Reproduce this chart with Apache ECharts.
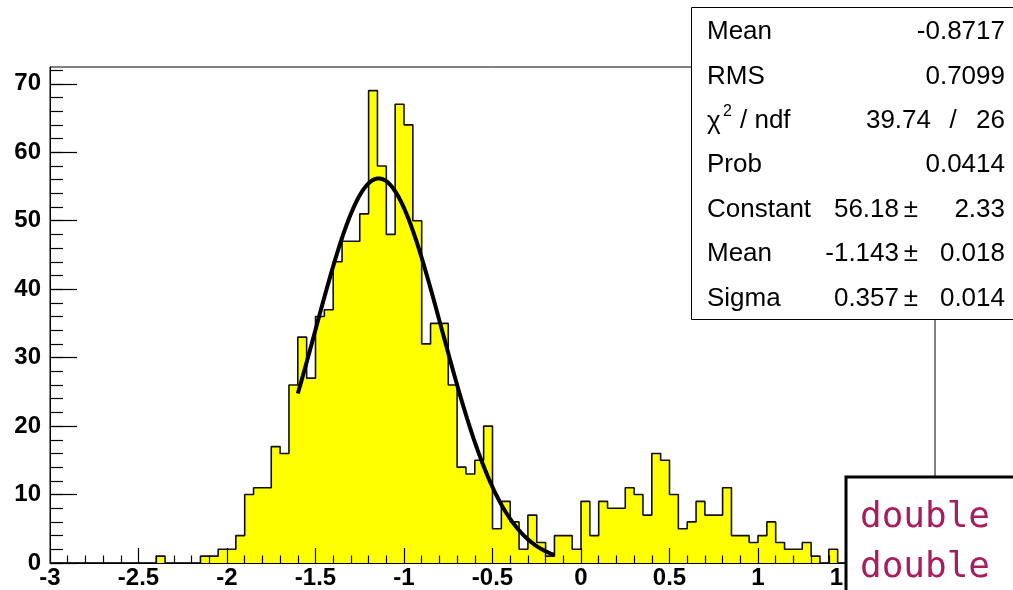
<!DOCTYPE html>
<html>
<head>
<meta charset="utf-8">
<script src="https://cdn.jsdelivr.net/npm/echarts@6/dist/echarts.min.js"></script>
<style>
  html, body { margin: 0; padding: 0; background: #fff; }
  #chart { width: 1013px; height: 590px; }
</style>
</head>
<body>
<div id="chart"></div>
<script>
// Histogram: 100 bins from -3 to 2 (bin width 0.05)
const xMin = -3;
const xMax = 2;
const binWidth = 0.05;
const counts = [
  0, 0, 0, 0, 0, 0, 0, 0, 0, 0,
  0, 0, 1, 0, 0, 0, 0, 1, 1, 2,
  2, 4, 10, 11, 11, 17, 16, 26, 33, 27,
  36, 37, 44, 47, 47, 51, 69, 58, 48, 67,
  64, 50, 32, 35, 35, 26, 14, 13, 15, 20,
  5, 9, 6, 2, 7, 3, 1, 4, 4, 2,
  9, 4, 9, 8, 8, 11, 10, 7, 16, 15,
  10, 5, 6, 9, 7, 7, 11, 4, 4, 3,
  4, 6, 3, 2, 2, 3, 1, 0, 2, 0,
  1, 0, 1, 0, 0, 1, 0, 0, 0, 0
];

// Gaussian fit parameters and fit range
const fitConstant = 56.18;
const fitMean = -1.143;
const fitSigma = 0.357;
const fitRange = [-1.6, -0.15];

// Axis ticks
const yMax = 72.45;
const yMajorTicks = [0, 10, 20, 30, 40, 50, 60, 70];
const yMinorTicks = [0, 2, 4, 6, 8, 10, 12, 14, 16, 18, 20, 22, 24, 26, 28, 30, 32, 34,
  36, 38, 40, 42, 44, 46, 48, 50, 52, 54, 56, 58, 60, 62, 64, 66, 68, 70, 72];

// Statistics box rows: name, then value pieces [value] or [value, separator, second value]
const statNames = ['Mean', 'RMS', 'χ2 / ndf', 'Prob', 'Constant', 'Mean', 'Sigma'];
const statValues = [
  ['-0.8717'],
  ['0.7099'],
  ['39.74', '/', '26'],
  ['0.0414'],
  ['56.18', '±', '2.33'],
  ['-1.143', '±', '0.018'],
  ['0.357', '±', '0.014']
];

// Code snippet box
const snippetLines = ['double', 'double'];

// Step outline: each point is a bin's lower edge with its count
const histData = counts.map((c, i) => [xMin + i * binWidth, c]);
histData.push([xMax, counts[counts.length - 1]]);

// Fit curve sampled across the fit range
const fitData = [];
const nFit = 200;
for (let k = 0; k <= nFit; k++) {
  const x = fitRange[0] + (fitRange[1] - fitRange[0]) * k / nFit;
  const z = (x - fitMean) / fitSigma;
  fitData.push([x, fitConstant * Math.exp(-0.5 * z * z)]);
}

const labelFont = {
  fontFamily: 'Liberation Sans, Arial, Helvetica, sans-serif',
  fontWeight: 'bold',
  fontSize: 24,
  color: '#000'
};

const statFamily = 'Liberation Sans, Arial, Helvetica, sans-serif';
const statFont = '400 26px ' + statFamily;
const rowTop = 32;
const rowStep = 44.4;
const nameX = 707;
const valueRight = 1005;

function statText(text, x, y, align, font) {
  return {
    type: 'text', z: 101, x: x, y: y,
    style: { text: text, fill: '#000', font: font || statFont, align: align, verticalAlign: 'middle' }
  };
}

const graphics = [
  {
    type: 'rect',
    z: 100,
    shape: { x: 691.5, y: 7.5, width: 400, height: 312 },
    style: { fill: '#fff', stroke: '#000', lineWidth: 1 }
  }
];
statNames.forEach((name, i) => {
  const y = rowTop + i * rowStep;
  if (name.startsWith('χ2')) {
    // chi-square with a raised small "2"
    graphics.push(statText('χ', nameX, y + 1, 'left'));
    graphics.push(statText('2', nameX + 16, y - 9, 'left', '400 16px ' + statFamily));
    graphics.push(statText('/ ndf', nameX + 33, y, 'left'));
  } else {
    graphics.push(statText(name, nameX, y, 'left'));
  }
  const v = statValues[i];
  if (v.length === 1) {
    graphics.push(statText(v[0], valueRight, y, 'right'));
  } else if (v[1] === '/') {
    graphics.push(statText(v[0], 931, y, 'right'));
    graphics.push(statText(v[1], 953, y, 'center'));
    graphics.push(statText(v[2], valueRight, y, 'right'));
  } else {
    graphics.push(statText(v[0], 899, y, 'right'));
    graphics.push(statText(v[1], 911, y, 'center'));
    graphics.push(statText(v[2], valueRight, y, 'right'));
  }
});
graphics.push({
  type: 'rect',
  z: 100,
  shape: { x: 846, y: 477, width: 300, height: 200 },
  style: { fill: '#fff', stroke: '#000', lineWidth: 3 }
});
snippetLines.forEach((line, i) => {
  graphics.push({
    type: 'text', z: 101,
    x: 860, y: 518 + i * 50,
    style: {
      text: line, fill: '#a71d5d',
      font: '400 36px "DejaVu Sans Mono", monospace',
      align: 'left', verticalAlign: 'middle'
    }
  });
});

const chart = echarts.init(document.getElementById('chart'), null, { renderer: 'canvas' });
chart.setOption({
  animation: false,
  backgroundColor: '#fff',
  grid: {
    left: 50, right: 78, top: 67, bottom: 24,
    show: true, borderColor: '#000', borderWidth: 1, backgroundColor: 'transparent'
  },
  xAxis: {
    type: 'value',
    min: xMin, max: xMax, interval: 0.5,
    z: 10,
    axisLine: { show: true, onZero: false, lineStyle: { color: '#000', width: 1 } },
    axisTick: { show: true, inside: true, length: 15, lineStyle: { color: '#000', width: 1.2 } },
    minorTick: { show: true, splitNumber: 5, length: 7.5, lineStyle: { color: '#000', width: 1.2 } },
    axisLabel: Object.assign({ margin: 3, showMinLabel: true, showMaxLabel: true }, labelFont),
    splitLine: { show: false }
  },
  yAxis: [
    {
      type: 'value',
      min: 0, max: yMax,
      position: 'left',
      z: 10,
      axisLine: { show: true, onZero: false, lineStyle: { color: '#000', width: 1 } },
      axisTick: { show: true, inside: true, length: 27, customValues: yMajorTicks,
        lineStyle: { color: '#000', width: 1.2 } },
      axisLabel: Object.assign({ margin: 9, customValues: yMajorTicks }, labelFont),
      splitLine: { show: false }
    },
    {
      type: 'value',
      min: 0, max: yMax,
      position: 'left',
      z: 10,
      axisLine: { show: false, onZero: false },
      axisTick: { show: true, inside: true, length: 13, customValues: yMinorTicks,
        lineStyle: { color: '#000', width: 1.2 } },
      axisLabel: { show: false },
      splitLine: { show: false }
    }
  ],
  series: [
    {
      type: 'line',
      name: 'histogram',
      data: histData,
      step: 'end',
      symbol: 'none',
      z: 2,
      lineStyle: { color: '#111', width: 1.6 },
      areaStyle: { color: '#ffff00', opacity: 1 }
    },
    {
      type: 'line',
      name: 'gaus',
      data: fitData,
      symbol: 'none',
      z: 3,
      lineStyle: { color: '#000', width: 4 }
    }
  ],
  graphic: graphics
});
</script>
</body>
</html>
